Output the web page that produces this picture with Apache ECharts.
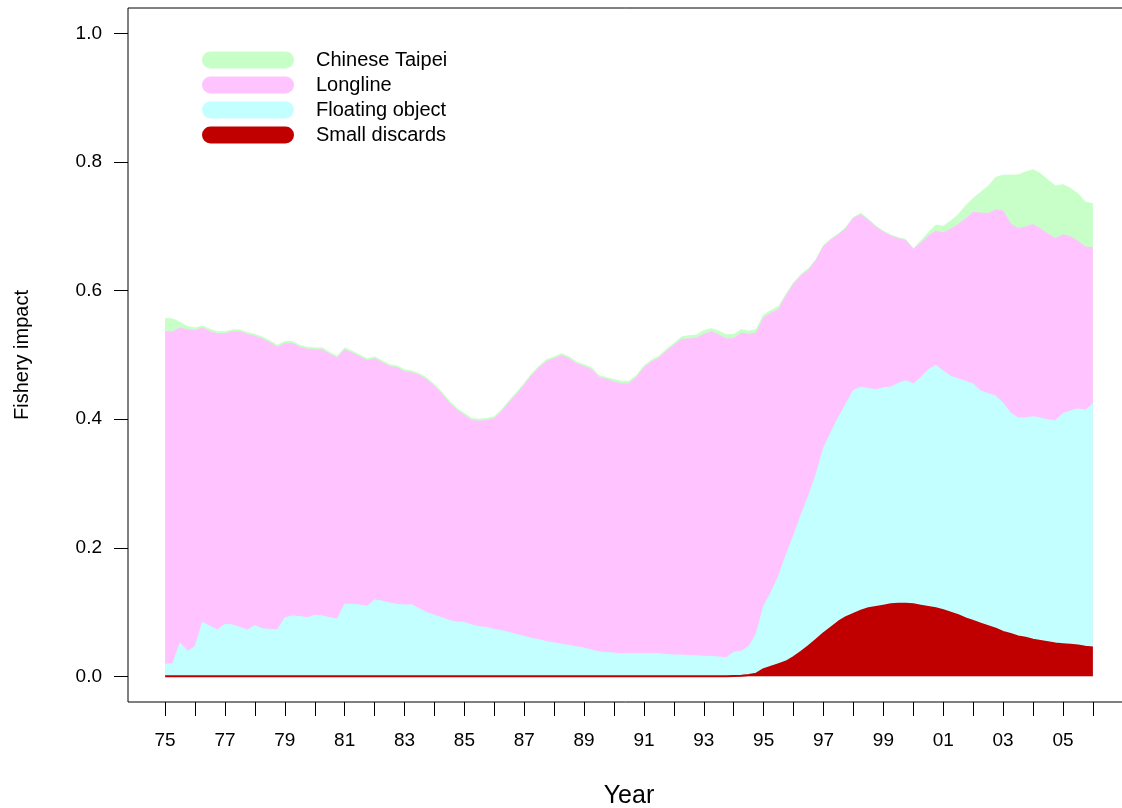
<!DOCTYPE html>
<html>
<head>
<meta charset="utf-8">
<script src="https://cdn.jsdelivr.net/npm/echarts@6/dist/echarts.min.js"></script>
<style>
  html, body { margin: 0; padding: 0; background: #fff; }
  #chart { width: 1122px; height: 808px; }
</style>
</head>
<body>
<div id="chart"></div>
<script>
// ---- Data (quarterly, 1975.00 ... 2006.00) ----
const startYear = 1975;
const quartersPerYear = 4;

const seriesNames = ["Small discards", "Floating object", "Longline", "Chinese Taipei"];
const legendOrder = ["Chinese Taipei", "Longline", "Floating object", "Small discards"];
const seriesColors = ["#C00000", "#C4FFFF", "#FFC4FF", "#C8FFC8"];

const smallDiscards = [
  0, 0, 0, 0,            // 1975
  0, 0, 0, 0,            // 1976
  0, 0, 0, 0,            // 1977
  0, 0, 0, 0,            // 1978
  0, 0, 0, 0,            // 1979
  0, 0, 0, 0,            // 1980
  0, 0, 0, 0,            // 1981
  0, 0, 0, 0,            // 1982
  0, 0, 0, 0,            // 1983
  0, 0, 0, 0,            // 1984
  0, 0, 0, 0,            // 1985
  0, 0, 0, 0,            // 1986
  0, 0, 0, 0,            // 1987
  0, 0, 0, 0,            // 1988
  0, 0, 0, 0,            // 1989
  0, 0, 0, 0,            // 1990
  0, 0, 0, 0,            // 1991
  0, 0, 0, 0,            // 1992
  0, 0, 0, 0,            // 1993
  0.0005, 0.001, 0.002, 0.004,   // 1994
  0.011, 0.015, 0.019, 0.023,    // 1995
  0.030, 0.038, 0.047, 0.057,    // 1996
  0.067, 0.076, 0.085, 0.092,    // 1997
  0.097, 0.102, 0.106, 0.108,    // 1998
  0.110, 0.112, 0.113, 0.113,    // 1999
  0.112, 0.110, 0.108, 0.106,    // 2000
  0.103, 0.099, 0.095, 0.090,    // 2001
  0.086, 0.082, 0.078, 0.074,    // 2002
  0.069, 0.066, 0.062, 0.060,    // 2003
  0.057, 0.055, 0.053, 0.051,    // 2004
  0.050, 0.049, 0.048, 0.046,    // 2005
  0.045                          // 2006
];

const floatingObject = [
  0.019, 0.019, 0.052, 0.039,   // 1975
  0.046, 0.084, 0.078, 0.072,   // 1976
  0.081, 0.080, 0.076, 0.072,   // 1977
  0.079, 0.074, 0.073, 0.072,   // 1978
  0.091, 0.094, 0.093, 0.091,   // 1979
  0.095, 0.094, 0.091, 0.089,   // 1980
  0.112, 0.112, 0.111, 0.109,   // 1981
  0.119, 0.117, 0.114, 0.112,   // 1982
  0.111, 0.111, 0.105, 0.099,   // 1983
  0.095, 0.091, 0.087, 0.084,   // 1984
  0.084, 0.080, 0.077, 0.076,   // 1985
  0.073, 0.071, 0.068, 0.065,   // 1986
  0.062, 0.059, 0.057, 0.054,   // 1987
  0.052, 0.050, 0.048, 0.046,   // 1988
  0.044, 0.041, 0.038, 0.037,   // 1989
  0.036, 0.035, 0.035, 0.035,   // 1990
  0.035, 0.035, 0.035, 0.034,   // 1991
  0.033, 0.033, 0.032, 0.032,   // 1992
  0.031, 0.031, 0.030, 0.029,   // 1993
  0.037, 0.038, 0.044, 0.062,   // 1994
  0.098, 0.116, 0.137, 0.166,   // 1995
  0.189, 0.213, 0.234, 0.257,   // 1996
  0.288, 0.304, 0.318, 0.332,   // 1997
  0.348, 0.348, 0.342, 0.338,   // 1998
  0.339, 0.338, 0.343, 0.347,   // 1999
  0.343, 0.355, 0.369, 0.378,   // 2000
  0.372, 0.368, 0.368, 0.369,   // 2001
  0.369, 0.362, 0.362, 0.362,   // 2002
  0.356, 0.344, 0.340, 0.342,   // 2003
  0.347, 0.347, 0.346, 0.347,   // 2004
  0.359, 0.364, 0.368, 0.368,   // 2005
  0.379                         // 2006
];

const longline = [
  0.517, 0.517, 0.490, 0.500,   // 1975
  0.492, 0.458, 0.458, 0.461,   // 1976
  0.452, 0.456, 0.460, 0.460,   // 1977
  0.450, 0.451, 0.446, 0.440,   // 1978
  0.427, 0.424, 0.419, 0.418,   // 1979
  0.413, 0.414, 0.410, 0.406,   // 1980
  0.396, 0.391, 0.386, 0.382,   // 1981
  0.375, 0.371, 0.368, 0.368,   // 1982
  0.363, 0.361, 0.363, 0.362,   // 1983
  0.356, 0.348, 0.338, 0.330,   // 1984
  0.322, 0.318, 0.320, 0.322,   // 1985
  0.328, 0.341, 0.358, 0.374,   // 1986
  0.391, 0.409, 0.423, 0.436,   // 1987
  0.442, 0.449, 0.446, 0.440,   // 1988
  0.438, 0.436, 0.427, 0.425,   // 1989
  0.422, 0.420, 0.420, 0.430,   // 1990
  0.445, 0.454, 0.460, 0.472,   // 1991
  0.482, 0.491, 0.493, 0.494,   // 1992
  0.501, 0.505, 0.501, 0.496,   // 1993
  0.488, 0.495, 0.486, 0.468,   // 1994
  0.449, 0.434, 0.415, 0.403,   // 1995
  0.391, 0.372, 0.351, 0.333,   // 1996
  0.314, 0.299, 0.284, 0.273,   // 1997
  0.268, 0.268, 0.261, 0.253,   // 1998
  0.242, 0.235, 0.225, 0.218,   // 1999
  0.209, 0.209, 0.208, 0.209,   // 2000
  0.215, 0.229, 0.240, 0.253,   // 2001
  0.267, 0.277, 0.280, 0.290,   // 2002
  0.299, 0.294, 0.295, 0.297,   // 2003
  0.299, 0.294, 0.289, 0.283,   // 2004
  0.278, 0.271, 0.261, 0.254,   // 2005
  0.243                         // 2006
];

const chineseTaipei = [
  0.021, 0.020, 0.009, 0.005,   // 1975
  0.004, 0.003, 0.004, 0.003,   // 1976
  0.003, 0.003, 0.003, 0.003,   // 1977
  0.003, 0.003, 0.003, 0.003,   // 1978
  0.003, 0.003, 0.003, 0.003,   // 1979
  0.003, 0.003, 0.003, 0.003,   // 1980
  0.003, 0.003, 0.003, 0.003,   // 1981
  0.003, 0.003, 0.003, 0.003,   // 1982
  0.003, 0.003, 0.003, 0.003,   // 1983
  0.003, 0.003, 0.003, 0.003,   // 1984
  0.003, 0.003, 0.003, 0.003,   // 1985
  0.003, 0.003, 0.003, 0.003,   // 1986
  0.003, 0.003, 0.003, 0.003,   // 1987
  0.003, 0.003, 0.003, 0.003,   // 1988
  0.003, 0.003, 0.003, 0.003,   // 1989
  0.004, 0.004, 0.004, 0.003,   // 1990
  0.003, 0.003, 0.003, 0.003,   // 1991
  0.003, 0.004, 0.005, 0.005,   // 1992
  0.006, 0.005, 0.006, 0.0065,  // 1993
  0.0065, 0.0054, 0.0049, 0.0055, // 1994
  0.0043, 0.0044, 0.0044, 0.0027, // 1995
  0.0027, 0.0027, 0.0027, 0.0016, // 1996
  0.0016, 0.0016, 0.0016, 0.0017, // 1997
  0.0011, 0.0027, 0.0022, 0.0016, // 1998
  0.0016, 0.0016, 0.0017, 0.0016, // 1999
  0.0017, 0.0033, 0.0054, 0.0093, // 2000
  0.0103, 0.0125, 0.0153, 0.0202, // 2001
  0.0219, 0.0323, 0.0426, 0.0503, // 2002
  0.0558, 0.0760, 0.0831, 0.0858, // 2003
  0.0852, 0.0863, 0.0842, 0.0820, // 2004
  0.0781, 0.0754, 0.0738, 0.0699, // 2005
  0.0683                          // 2006
];

const yTickValues = [0, 0.2, 0.4, 0.6, 0.8, 1.0];
const xTickYears = [1975,1976,1977,1978,1979,1980,1981,1982,1983,1984,1985,1986,1987,1988,1989,1990,
                    1991,1992,1993,1994,1995,1996,1997,1998,1999,2000,2001,2002,2003,2004,2005,2006];
const xLabelYears = [1975,1977,1979,1981,1983,1985,1987,1989,1991,1993,1995,1997,1999,2001,2003,2005];

// ---- Build chart ----
const layers = [smallDiscards, floatingObject, longline, chineseTaipei];

// stacked (cumulative) tops, bottom layer first
const stackedTops = [];
layers.forEach((arr, li) => {
  stackedTops.push(arr.map((v, i) => (li === 0 ? 0 : stackedTops[li - 1][i]) + v));
});

function toPairs(arr) {
  return arr.map((v, i) => [startYear + i / quartersPerYear, v]);
}

const FONT = "'Liberation Sans', Arial, Helvetica, sans-serif";
const capsule = 'path://M8.5,0H83.5A8.5,8.5,0,0,1,83.5,17H8.5A8.5,8.5,0,0,1,8.5,0Z';

// Draw the top-most cumulative layer first, each area filled down to zero,
// so lower layers paint over it (visual stacking).
const series = [3, 2, 1, 0].map((idx, order) => ({
  name: seriesNames[idx],
  type: 'line',
  symbol: 'none',
  smooth: false,
  z: 2 + order,
  data: toPairs(stackedTops[idx]),
  lineStyle: { color: seriesColors[idx], width: idx === 0 ? 2 : 1 },
  itemStyle: { color: seriesColors[idx] },
  areaStyle: { color: seriesColors[idx], opacity: 1, origin: 0 },
  emphasis: { disabled: true }
}));

const chart = echarts.init(document.getElementById('chart'), null, { renderer: 'canvas' });
chart.setOption({
  animation: false,
  backgroundColor: '#ffffff',
  textStyle: { fontFamily: FONT },
  grid: {
    left: 128, top: 8, width: 1002, height: 694,
    show: true, borderColor: '#000', borderWidth: 1, backgroundColor: 'transparent',
    containLabel: false,
    outerBoundsMode: 'none'
  },
  legend: {
    orient: 'vertical',
    left: 202, top: 50,
    padding: 0,
    itemWidth: 92, itemHeight: 17, itemGap: 5,
    icon: capsule,
    selectedMode: false,
    textStyle: { fontFamily: FONT, fontSize: 20, color: '#000', padding: [0, 0, 0, 17] },
    data: legendOrder.map(n => ({ name: n, icon: capsule,
      itemStyle: { color: seriesColors[seriesNames.indexOf(n)] } }))
  },
  xAxis: {
    type: 'value',
    min: 1973.76, max: 2007.24,
    name: 'Year', nameLocation: 'middle', nameGap: 82,
    nameTextStyle: { fontFamily: FONT, fontSize: 25, color: '#000' },
    axisLine: { show: false, onZero: false },
    splitLine: { show: false },
    axisTick: { show: true, length: 14, lineStyle: { color: '#000', width: 1 }, customValues: xTickYears },
    axisLabel: {
      show: true, margin: 29, fontFamily: FONT, fontSize: 19, color: '#000',
      customValues: xLabelYears,
      formatter: v => String(Math.round(v) % 100).padStart(2, '0')
    }
  },
  yAxis: {
    type: 'value',
    min: -0.04, max: 1.04,
    name: 'Fishery impact', nameLocation: 'middle', nameGap: 96, nameRotate: 90,
    nameTextStyle: { fontFamily: FONT, fontSize: 20, color: '#000' },
    axisLine: { show: false, onZero: false },
    splitLine: { show: false },
    axisTick: { show: true, length: 14, lineStyle: { color: '#000', width: 1 }, customValues: yTickValues },
    axisLabel: {
      show: true, margin: 26, fontFamily: FONT, fontSize: 19, color: '#000',
      customValues: yTickValues,
      formatter: v => v.toFixed(1)
    }
  },
  series: series
});
</script>
</body>
</html>
